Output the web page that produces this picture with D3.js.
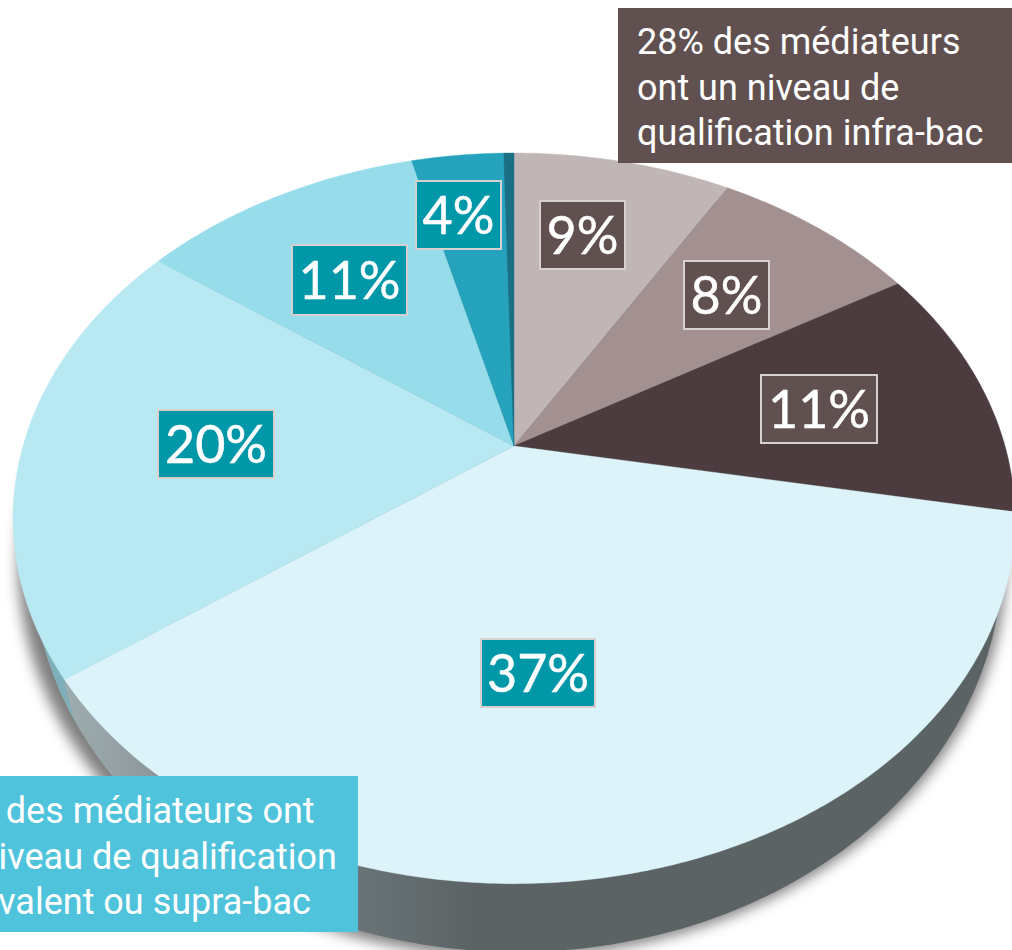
<!DOCTYPE html>
<html><head><meta charset="utf-8">
<script src="https://cdn.jsdelivr.net/npm/d3@7/dist/d3.min.js"></script>
<style>html,body{margin:0;padding:0;background:#fff;overflow:hidden}svg{display:block}</style>
</head><body><svg id="c" width="1012" height="950"></svg>
<script>
const categories = ["a","b","c","d","e","f","g","h"];
const values = [8.5, 8, 11.4, 37.1, 20, 11, 3.6, 0.4];
const sliceColors = ["#c1b6b6","#a39191","#4c3c3f","#dcf4f9","#b8e9f3","#97dceb","#26a3bc","#1a6f85"];
const labels = ["9%","8%","11%","37%","20%","11%","4%",null];
const labelBoxes = [[539,200,87,70],[683,260,87,70],[760,374,118,70],[480,638,116,70],[157,409,118,70],[291,244,117,72],[415,180,87,70],null];
const labelFill = ["#615050","#615050","#615050","#0097a9","#0097a9","#0097a9","#0097a9",null];
const callouts = [
 {x:618,y:8,w:394,h:155,fill:"#615050",tx:637,lines:["28% des médiateurs","ont un niveau de","qualification infra-bac"],base:[54,100,145]},
 {x:0,y:776,w:358,h:156,fill:"#4fc3db",tx:-70,lines:["72% des médiateurs ont","un niveau de qualification","équivalent ou supra-bac"],base:[823,869,914]}
];
const FONT = "Roboto, 'Liberation Sans', sans-serif";
const LABEL_FONT = "Lato, Roboto, sans-serif";
const svg = d3.select("#c");
const cx=514, apexY=446, a=491, b=351, k=0.198;
const proj = t => { const u=Math.sin(t), v=Math.cos(t), w=1+k*v; return [cx+a*u/w, apexY-b*v/w]; };
const pie = d3.pie().sort(null).value(d=>d)(values);
const defs = svg.append("defs");
defs.append("filter").attr("id","blur").attr("x","-10%").attr("y","-10%").attr("width","120%").attr("height","120%")
  .append("feGaussianBlur").attr("stdDeviation",7);
const g = defs.append("linearGradient").attr("id","wall").attr("gradientUnits","userSpaceOnUse")
  .attr("x1",60).attr("x2",470).attr("y1",0).attr("y2",0);
[[0,"#a0adaf"],[0.1,"#98a5a8"],[0.25,"#8a9598"],[0.75,"#687274"],[1,"#5b6365"]].forEach(s=>g.append("stop").attr("offset",s[0]).attr("stop-color",s[1]));
const wallCx=517, wallCy=560, wallRy=392, wallRx=485;
defs.append("clipPath").attr("id","wallClip").append("ellipse").attr("cx",wallCx).attr("cy",wallCy).attr("rx",wallRx).attr("ry",wallRy);
svg.append("ellipse").attr("cx",wallCx-5).attr("cy",wallCy+3).attr("rx",wallRx+9).attr("ry",wallRy+2).attr("fill","#000").attr("opacity",.5).attr("filter","url(#blur)");
svg.append("ellipse").attr("cx",wallCx).attr("cy",wallCy).attr("rx",wallRx).attr("ry",wallRy).attr("fill","url(#wall)");
// side of the 20% slice, seen as a thin teal band on the far left
const edge = proj(pie[3].endAngle);
svg.append("path").attr("clip-path","url(#wallClip)").attr("fill","#7fb0ba")
  .attr("d",`M${edge[0]},${edge[1]}Q${edge[0]+10},${edge[1]+55} ${edge[0]+38},${edge[1]+97}L0,${edge[1]+97}L0,${edge[1]-80}L${edge[0]},${edge[1]-80}Z`);
function slicePath(d){
  const n=Math.max(2,Math.ceil((d.endAngle-d.startAngle)*90));
  const pts=d3.range(n+1).map(i=>proj(d.startAngle+(d.endAngle-d.startAngle)*i/n));
  return "M"+cx+","+apexY+"L"+pts.map(p=>p.join(",")).join("L")+"Z";
}
svg.append("g").selectAll("path").data(pie).join("path").attr("d",slicePath)
  .attr("fill",(d,i)=>sliceColors[i]).attr("stroke",(d,i)=>sliceColors[i]).attr("stroke-width",.4);
const lg = svg.append("g");
labels.forEach((t,i)=>{ if(!t) return; const r=labelBoxes[i];
  lg.append("rect").attr("x",r[0]+1).attr("y",r[1]+1).attr("width",r[2]-2).attr("height",r[3]-2).attr("fill",labelFill[i]).attr("stroke","#d6d1cf").attr("stroke-width",2);
  lg.append("text").attr("x",r[0]+r[2]/2).attr("y",r[1]+r[3]/2+19).attr("text-anchor","middle").attr("fill","#fff").attr("stroke","#fff").attr("stroke-width",.5).attr("font-family",LABEL_FONT).attr("font-size",52).text(t);
});
callouts.forEach(c=>{
  svg.append("rect").attr("x",c.x).attr("y",c.y).attr("width",c.w).attr("height",c.h).attr("fill",c.fill);
  c.lines.forEach((l,i)=>svg.append("text").attr("x",c.tx).attr("y",c.base[i]).attr("fill","#fff").attr("font-family",FONT).attr("font-size",36).text(l));
});
</script></body></html>
